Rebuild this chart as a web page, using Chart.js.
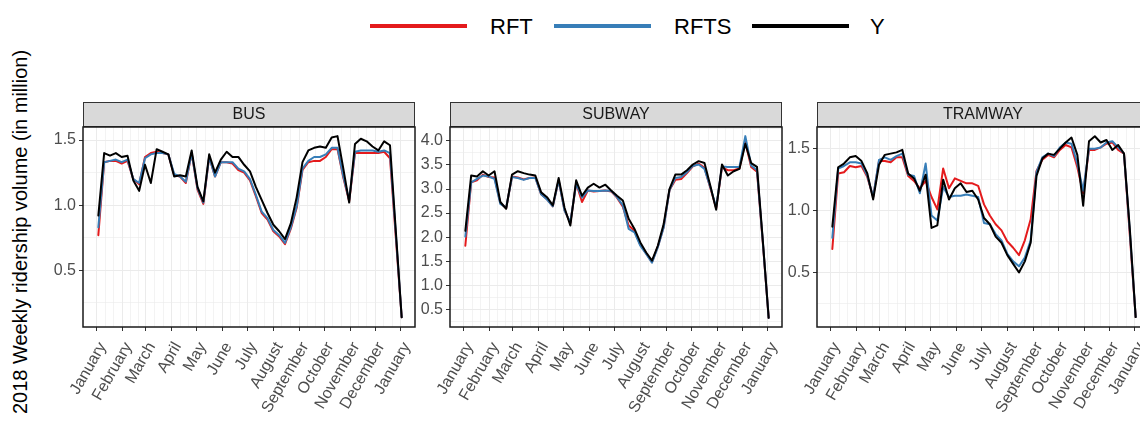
<!DOCTYPE html>
<html>
<head>
<meta charset="utf-8">
<script src="https://cdn.jsdelivr.net/npm/chart.js@4.4.1/dist/chart.umd.min.js"></script>
<style>
html, body { margin: 0; padding: 0; width: 1140px; height: 424px; overflow: hidden; background: #fff; }
body { position: relative; font-family: "Liberation Sans", Arial, sans-serif; }
canvas { position: absolute; top: 95px; }
.key { position: absolute; top: 24px; height: 4px; width: 97px; }
.lbl { position: absolute; top: 13px; font-size: 22px; line-height: 27px; color: #000; }
#ytitle {
    position: absolute; left: 20px; top: 232px; white-space: nowrap;
    font-size: 20px; color: #000;
    transform: translate(-50%, -50%) rotate(-90deg);
}
</style>
</head>
<body>
<div class="key" style="left:370px;background:#E41A1C"></div>
<div class="lbl" style="left:490px">RFT</div>
<div class="key" style="left:554px;background:#377EB8"></div>
<div class="lbl" style="left:674px">RFTS</div>
<div class="key" style="left:752px;background:#000000"></div>
<div class="lbl" style="left:870px">Y</div>
<div id="ytitle">2018 Weekly ridership volume (in million)</div>

<canvas id="bus" width="400" height="329" style="left:23px"></canvas>
<canvas id="subway" width="400" height="329" style="left:390px"></canvas>
<canvas id="tramway" width="400" height="329" style="left:757px"></canvas>

<script>
// week position, day of 2018
const weekDay = [2, 9, 16, 23, 30, 37, 44, 51, 58, 65, 72, 79, 86, 93, 100, 107, 114, 121,
    128, 135, 142, 149, 156, 163, 170, 177, 184, 191, 198, 205, 212, 219, 226, 233, 240,
    247, 254, 261, 268, 275, 282, 289, 296, 303, 310, 317, 324, 331, 338, 345, 352, 359, 366];

const monthStarts = [0, 31, 59, 90, 120, 151, 181, 212, 243, 273, 304, 334, 365];
const monthNames = ["January", "February", "March", "April", "May", "June", "July",
    "August", "September", "October", "November", "December", "January"];

// BUS
const busY = [0.92, 1.40, 1.38, 1.40, 1.37, 1.38, 1.19, 1.11, 1.31, 1.17, 1.43, 1.41, 1.39, 1.22,
    1.23, 1.22, 1.42, 1.14, 1.03, 1.39, 1.25, 1.35, 1.41, 1.37, 1.37, 1.31, 1.26, 1.14, 1.04,
    0.94, 0.85, 0.80, 0.74, 0.86, 1.06, 1.33, 1.42, 1.44, 1.45, 1.44, 1.52, 1.53, 1.28, 1.02,
    1.47, 1.51, 1.49, 1.45, 1.42, 1.49, 1.46, 0.80, 0.14];
const busRFTS = [0.83, 1.33, 1.34, 1.35, 1.33, 1.35, 1.20, 1.17, 1.36, 1.39, 1.40, 1.40, 1.39, 1.24,
    1.22, 1.18, 1.40, 1.13, 1.02, 1.37, 1.22, 1.33, 1.33, 1.33, 1.28, 1.26, 1.20, 1.08, 0.95,
    0.90, 0.81, 0.77, 0.71, 0.83, 0.99, 1.28, 1.34, 1.37, 1.37, 1.39, 1.44, 1.44, 1.22, 1.04,
    1.41, 1.42, 1.42, 1.42, 1.41, 1.42, 1.40, 0.78, 0.14];
const busRFT = [0.77, 1.33, 1.34, 1.34, 1.32, 1.34, 1.20, 1.16, 1.37, 1.40, 1.41, 1.40, 1.39, 1.23,
    1.22, 1.17, 1.40, 1.12, 1.01, 1.37, 1.22, 1.33, 1.33, 1.32, 1.27, 1.25, 1.19, 1.07, 0.94,
    0.89, 0.80, 0.76, 0.70, 0.82, 0.98, 1.27, 1.33, 1.34, 1.34, 1.37, 1.43, 1.43, 1.21, 1.03,
    1.40, 1.40, 1.40, 1.40, 1.40, 1.41, 1.36, 0.75, 0.14];

// SUBWAY
const subwayY = [2.13, 3.28, 3.26, 3.37, 3.28, 3.37, 2.73, 2.59, 3.30, 3.37, 3.33, 3.30, 3.28, 2.93,
    2.83, 2.66, 3.23, 2.61, 2.24, 3.18, 2.86, 3.03, 3.11, 3.03, 3.09, 2.97, 2.86, 2.76, 2.38,
    2.17, 1.89, 1.68, 1.51, 1.82, 2.27, 3.00, 3.30, 3.30, 3.39, 3.51, 3.58, 3.54, 3.07, 2.57,
    3.51, 3.28, 3.37, 3.42, 3.94, 3.54, 3.46, 1.92, 0.32];
const subwayRFTS = [2.01, 3.14, 3.21, 3.28, 3.26, 3.21, 2.69, 2.61, 3.25, 3.23, 3.19, 3.23, 3.23, 2.89,
    2.78, 2.64, 3.18, 2.55, 2.31, 3.11, 2.82, 2.97, 2.96, 2.96, 2.97, 2.96, 2.83, 2.66, 2.17,
    2.10, 1.82, 1.65, 1.47, 1.79, 2.20, 2.98, 3.23, 3.25, 3.35, 3.48, 3.51, 3.42, 3.04, 2.62,
    3.47, 3.46, 3.46, 3.46, 4.10, 3.49, 3.39, 1.90, 0.32];
const subwayRFT = [1.82, 3.14, 3.18, 3.30, 3.25, 3.24, 2.71, 2.60, 3.26, 3.24, 3.20, 3.23, 3.24, 2.89,
    2.79, 2.64, 3.18, 2.56, 2.29, 3.12, 2.73, 2.97, 2.95, 2.96, 2.97, 2.95, 2.82, 2.63, 2.24,
    2.13, 1.84, 1.66, 1.48, 1.80, 2.21, 2.98, 3.19, 3.21, 3.33, 3.47, 3.53, 3.44, 3.02, 2.60,
    3.45, 3.39, 3.39, 3.43, 3.98, 3.46, 3.36, 1.88, 0.32];

// TRAMWAY
const tramY = [0.87, 1.35, 1.38, 1.43, 1.44, 1.40, 1.30, 1.09, 1.37, 1.45, 1.46, 1.47, 1.49, 1.30,
    1.26, 1.16, 1.29, 0.86, 0.88, 1.25, 1.09, 1.18, 1.22, 1.15, 1.16, 1.09, 0.94, 0.89, 0.79,
    0.74, 0.64, 0.57, 0.50, 0.59, 0.74, 1.28, 1.42, 1.46, 1.45, 1.50, 1.55, 1.59, 1.45, 1.04,
    1.56, 1.60, 1.55, 1.57, 1.49, 1.53, 1.46, 0.85, 0.14];
const tramRFTS = [0.78, 1.34, 1.36, 1.39, 1.39, 1.38, 1.28, 1.11, 1.41, 1.43, 1.41, 1.44, 1.46, 1.29,
    1.28, 1.14, 1.38, 0.96, 0.92, 1.19, 1.11, 1.12, 1.12, 1.13, 1.12, 1.11, 0.90, 0.89, 0.81,
    0.76, 0.65, 0.59, 0.55, 0.62, 0.76, 1.31, 1.43, 1.46, 1.44, 1.51, 1.55, 1.54, 1.38, 1.16,
    1.50, 1.50, 1.51, 1.55, 1.56, 1.51, 1.46, 0.83, 0.14];
const tramRFT = [0.69, 1.30, 1.31, 1.36, 1.35, 1.36, 1.27, 1.11, 1.40, 1.40, 1.39, 1.43, 1.43, 1.28,
    1.24, 1.18, 1.24, 1.11, 1.01, 1.34, 1.18, 1.26, 1.24, 1.22, 1.22, 1.20, 1.05, 0.96, 0.89,
    0.84, 0.75, 0.70, 0.64, 0.76, 0.93, 1.32, 1.41, 1.45, 1.43, 1.49, 1.53, 1.51, 1.35, 1.14,
    1.49, 1.49, 1.51, 1.54, 1.55, 1.49, 1.46, 0.80, 0.14];

const FONT = '"Liberation Sans", Arial, sans-serif';

// grid at month starts plus two minor lines per month
let xGrid = [];
for (let m = 0; m < 12; m++) {
    const a = monthStarts[m], len = monthStarts[m + 1] - a;
    xGrid.push(a, a + len / 3, a + 2 * len / 3);
}
xGrid.push(365);

const isMonth = v => monthStarts.includes(v);
const isHalf = v => Math.abs(v * 2 - Math.round(v * 2)) < 1e-6;

const facetPlugin = {
    id: "facet",
    beforeDraw(chart, args, opts) {
        const { ctx, chartArea } = chart;
        ctx.save();
        ctx.fillStyle = "#D9D9D9";
        ctx.fillRect(chartArea.left, 7, chartArea.width, 25);
        ctx.strokeStyle = "#333333";
        ctx.lineWidth = 1;
        ctx.strokeRect(chartArea.left + 0.5, 7.5, chartArea.width - 1, 24);
        ctx.fillStyle = "#1A1A1A";
        ctx.font = "16px " + FONT;
        ctx.textAlign = "center";
        ctx.textBaseline = "middle";
        ctx.fillText(opts.title, (chartArea.left + chartArea.right) / 2, 20);
        ctx.restore();
    },
    afterDatasetsDraw(chart) {
        const { ctx, chartArea } = chart;
        ctx.save();
        ctx.strokeStyle = "#1A1A1A";
        ctx.lineWidth = 1.5;
        ctx.strokeRect(chartArea.left, chartArea.top, chartArea.width, chartArea.height);
        ctx.restore();
    },
};

function points(vals) {
    return weekDay.map((d, i) => ({ x: d, y: vals[i] }));
}

function panel(id, title, yMin, yMax, yTop, y, rfts, rft) {
    let yGrid = [];
    for (let v = 0.25; v <= yTop + 1e-9; v += 0.25) yGrid.push(Math.round(v * 100) / 100);

    new Chart(document.getElementById(id), {
        type: "line",
        data: {
            datasets: [
                { label: "Y", data: points(y), borderColor: "#000000" },
                { label: "RFTS", data: points(rfts), borderColor: "#377EB8" },
                { label: "RFT", data: points(rft), borderColor: "#E41A1C" },
            ],
        },
        options: {
            responsive: false,
            animation: false,
            layout: { padding: { top: 32, right: 8, left: 0, bottom: 0 }, autoPadding: false },
            elements: {
                point: { radius: 0 },
                line: { borderWidth: 2, tension: 0, borderJoinStyle: "round", borderCapStyle: "round" },
            },
            plugins: {
                legend: { display: false },
                tooltip: { enabled: false },
                facet: { title: title },
            },
            scales: {
                x: {
                    type: "linear",
                    min: -16.4,
                    max: 382,
                    afterBuildTicks: s => { s.ticks = xGrid.map(v => ({ value: v })); },
                    afterFit: s => { s.height = 97; s.paddingLeft = 0; s.paddingRight = 0; },
                    ticks: {
                        autoSkip: false,
                        minRotation: 60,
                        maxRotation: 60,
                        padding: 8,
                        labelOffset: 6,
                        color: "#4D4D4D",
                        font: { size: 16, family: FONT },
                        callback: v => {
                            const k = monthStarts.indexOf(v);
                            return k < 0 ? "" : monthNames[k];
                        },
                    },
                    grid: {
                        color: "#EBEBEB",
                        lineWidth: c => (isMonth(c.tick.value) ? 1 : 0.6),
                        tickLength: 4,
                        tickWidth: 1,
                        tickColor: c => (isMonth(c.tick.value) ? "#333333" : "rgba(0,0,0,0)"),
                    },
                    border: { display: false },
                },
                y: {
                    min: yMin,
                    max: yMax,
                    afterBuildTicks: s => { s.ticks = yGrid.map(v => ({ value: v })); },
                    afterFit: s => { s.width = 60; s.paddingTop = 0; s.paddingBottom = 0; },
                    ticks: {
                        autoSkip: false,
                        padding: 3,
                        color: "#4D4D4D",
                        font: { size: 16, family: FONT },
                        callback: v => (isHalf(v) ? v.toFixed(1) : ""),
                    },
                    grid: {
                        color: "#EBEBEB",
                        lineWidth: c => (isHalf(c.tick.value) ? 1 : 0.6),
                        tickLength: 4,
                        tickWidth: 1,
                        tickColor: c => (isHalf(c.tick.value) ? "#333333" : "rgba(0,0,0,0)"),
                    },
                    border: { display: false },
                },
            },
        },
        plugins: [facetPlugin],
    });
}

panel("bus", "BUS", 0.065, 1.6, 1.5, busY, busRFTS, busRFT);
panel("subway", "SUBWAY", 0.13, 4.29, 4.25, subwayY, subwayRFTS, subwayRFT);
panel("tramway", "TRAMWAY", 0.06, 1.675, 1.5, tramY, tramRFTS, tramRFT);
</script>
</body>
</html>
